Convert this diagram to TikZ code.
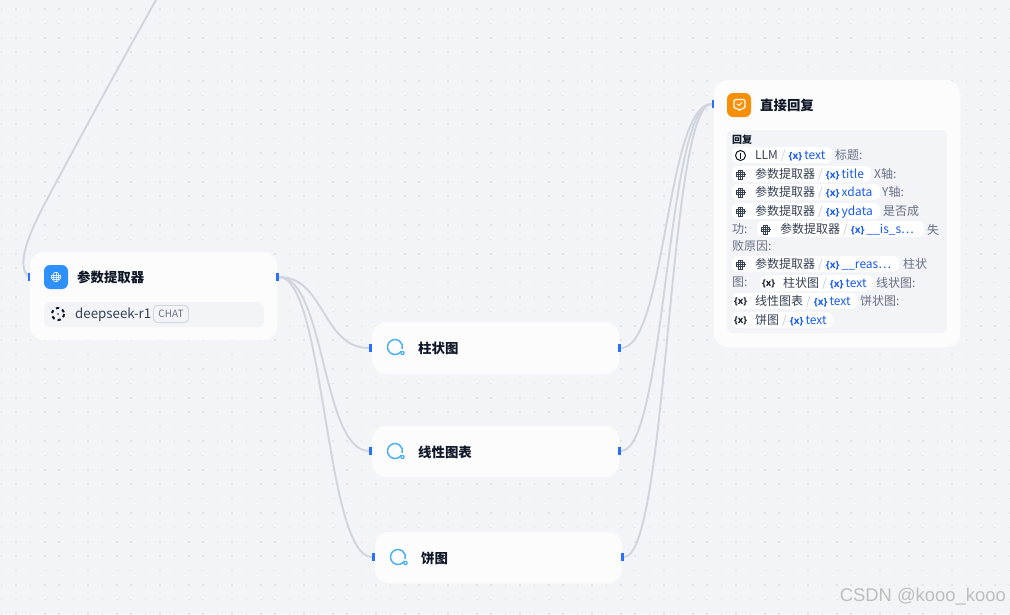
\documentclass[tikz,border=0pt]{standalone}
\usepackage{fontspec}
\setmainfont{Noto Sans CJK SC}
\newfontfamily\xfont{Open Sans}
\newfontfamily\wmfont{Liberation Sans}
\definecolor{bgc}{HTML}{F2F4F7}
\definecolor{dotc}{HTML}{E1E3E8}
\definecolor{edgec}{HTML}{D0D5DD}
\definecolor{portc}{HTML}{2970FF}
\definecolor{ink}{HTML}{101828}
\definecolor{body}{HTML}{354052}
\definecolor{muted}{HTML}{676F83}
\definecolor{slashc}{HTML}{C8CEDA}
\definecolor{varc}{HTML}{155AEF}
\definecolor{rowc}{HTML}{F2F4F7}
\definecolor{cardc}{HTML}{FCFCFD}
\definecolor{peblue}{HTML}{2E90FA}
\definecolor{ansor}{HTML}{F79009}
\definecolor{ringc}{HTML}{4CB0EE}
\tikzset{
  x=1pt,y=-1pt,
  edge/.style={draw=edgec,line width=1.9pt},
  card/.style={fill=cardc,rounded corners=14pt,draw=white!60!bgc,line width=.5pt},
  port/.style={fill=portc,draw=none,inner sep=0pt,minimum width=2.6pt,minimum height=8pt,rectangle},
  title/.style={font=\fontsize{13.4}{14}\selectfont\bfseries,text=ink,anchor=west,inner sep=0pt},
  chipbox/.style={fill=white,rounded corners=6pt,draw=none},
  chiptext/.style={font=\fontsize{12}{12}\selectfont,text=body,anchor=west,inner sep=0pt},
  plain/.style={font=\fontsize{12}{12}\selectfont,text=muted,anchor=west,inner sep=0pt},
  srcvar/.style={font=\xfont\fontsize{9.5}{9.5}\selectfont\bfseries,text=ink,inner sep=0pt},
}
\newcommand{\slashmark}{\hspace{3pt}{\color{slashc}/}\hspace{3pt}}
\newcommand{\varmark}{{\xfont\fontsize{10}{10}\selectfont\bfseries\color{varc}\{x\}}\hspace{2pt}}
% hatched round glyph centred at #1: colour #2
\newcommand{\gridglyph}[2]{%
  \begin{scope}[shift={(#1)}]
  \foreach \gv/\gl in {-4.4/2.2,-2.2/4.2,0/5,2.2/4.2,4.4/2.2}{%
    \draw[#2,line width=.85pt] (\gv,-\gl) -- (\gv,\gl);
    \draw[#2,line width=.45pt] (-\gl,\gv) -- (\gl,\gv);}
  \end{scope}}
% x-left, y, width, icon code, source, variable, node name
\newcommand{\chipline}[7]{%
  \fill[chipbox] (#1,#2-8) rectangle ++(#3,16);
  \coordinate (ic#7) at (#1+8.5,#2+.5);
  #4
  \node[chiptext] (#7) at (#1+23,#2+.6) {#5\slashmark\varmark{\color{varc}#6}};
}
\newcommand{\gicon}[1]{\gridglyph{ic#1}{body}}
\newcommand{\vicon}[1]{\node[srcvar] at (ic#1) {\{x\}};}
\usetikzlibrary{calc}
\begin{document}
\begin{tikzpicture}
\useasboundingbox (0,0) rectangle (1010,614);
\fill[bgc] (0,0) rectangle (1010,614);
\foreach \i in {0,...,70}{\foreach \j in {0,...,42}{%
  \fill[dotc] (1.5+14.4*\i-.8,9+14.4*\j-.8) rectangle ++(1.6,1.6);}}

% cards
\draw[card] (30,252) rectangle (277,340);
\draw[card] (372,322) rectangle (619,374);
\draw[card] (372,426) rectangle (619,477);
\draw[card] (375,532) rectangle (622,583);
\draw[card] (714,80) rectangle (960,347);

% ports
\node[port] (pIn) at (29,277) {};
\node[port] (pOut) at (277.5,277) {};
\node[port] (barIn) at (370.5,348) {};
\node[port] (barOut) at (619.5,348) {};
\node[port] (lineIn) at (370.5,451) {};
\node[port] (lineOut) at (619.5,451) {};
\node[port] (pieIn) at (373.5,557) {};
\node[port] (pieOut) at (622.5,557) {};
\node[port] (ansIn) at (713,104) {};
\coordinate (topEnd) at (156.5,-1);
\coordinate (topBend) at (43,207);

% connectors
\draw[edge] (topEnd) .. controls (100,100) and (60,175) .. (topBend) .. controls (30,232) and (15,266) .. (pIn.center);
\draw[edge] (pOut.east) .. controls (325,277) and (322,348) .. (barIn.west);
\draw[edge] (pOut.east) .. controls (325,277) and (322,451) .. (lineIn.west);
\draw[edge] (pOut.east) .. controls (325,277) and (325,557) .. (pieIn.west);
\draw[edge] (barOut.east) .. controls (666,348) and (666,104) .. (ansIn.west);
\draw[edge] (lineOut.east) .. controls (666,451) and (666,104) .. (ansIn.west);
\draw[edge] (pieOut.east) .. controls (668,557) and (668,104) .. (ansIn.west);
\node[port] at (pIn) {};
\node[port] at (pOut) {};
\node[port] at (barIn) {};
\node[port] at (barOut) {};
\node[port] at (lineIn) {};
\node[port] at (lineOut) {};
\node[port] at (pieIn) {};
\node[port] at (pieOut) {};
\node[port] at (ansIn) {};

% parameter extractor
\fill[peblue,rounded corners=6pt] (44,265) rectangle ++(24,24);
\coordinate (pe) at (56,277);
\gridglyph{pe}{white!85!peblue}
\node[title] (peT) at (77,277) {参数提取器};
\fill[rowc,rounded corners=6pt] (44,302) rectangle (264,327);
\draw[ink,line width=2pt,dash pattern=on 3.3pt off 3.2pt] (58,314) circle[radius=6];
\fill[ink] (58,314) circle[radius=.9];
\node[font=\fontsize{13.3}{13.3}\selectfont,text=body,anchor=west,inner sep=0pt] (model) at (75,315) {deepseek-r1};
\node[draw=edgec,line width=.9pt,rounded corners=4pt,font=\fontsize{10}{10}\selectfont,text=muted,inner sep=0pt,minimum width=35pt,minimum height=17pt] (badge) at (171,314) {CHAT};

% code-style nodes
\foreach \nx/\ny/\nt/\nn in {387/348/柱状图/barT,387/452/线性图表/lineT,390/558/饼图/pieT}{%
  \draw[ringc,line width=1.5pt] (\nx+8,\ny-1) ++(35:7.5) arc[start angle=35,end angle=375,radius=7.5];
  \fill[ringc] (\nx+15.5,\ny+5) circle[radius=2.3];
  \fill[white] (\nx+15.5,\ny+5) circle[radius=.9];
  \node[title] (\nn) at (\nx+31,\ny) {\nt};
}

% answer node
\fill[ansor,rounded corners=6pt] (727,93) rectangle ++(24,24);
\draw[white,line width=1.1pt,rounded corners=1.5pt] (734,99.5) -- (745,99.5) -- (745,108.5) -- (741,108.5) -- (739.5,110.5) -- (738,108.5) -- (734,108.5) -- cycle;
\draw[white,line width=1pt] (737,104) -- (739,105.5) -- (742,102.5);
\node[title] (ansT) at (760,105) {直接回复};
\fill[rowc,rounded corners=6pt] (727,130) rectangle (947,333);
\node[font=\fontsize{10}{10}\selectfont\bfseries,text=ink,anchor=west,inner sep=0pt] (ansL) at (732,139.5) {回复};

% reply text
\chipline{732}{155}{100}{\draw[ink,line width=1pt] (ica) circle[radius=5]; \draw[ink,line width=1pt] (ica) ++(0,-3) -- ++(0,6);}{LLM}{text}{a}
\node[plain] at (835,154.5) {标题:};
\chipline{732}{174}{139}{\gicon{b}}{参数提取器}{title}{b}
\node[plain] at (874,173.5) {X轴:};
\chipline{732}{192}{148}{\gicon{c}}{参数提取器}{xdata}{c}
\node[plain] at (882,191.5) {Y轴:};
\chipline{732}{211}{148}{\gicon{d}}{参数提取器}{ydata}{d}
\node[plain] at (883,210.5) {是否成};
\node[plain] at (732,229.5) {功:};
\chipline{757}{229}{167}{\gicon{e}}{参数提取器}{\_\_is\_s⋯}{e}
\node[plain] at (927,229.5) {失};
\node[plain] at (732,245.5) {败原因:};
\chipline{732}{264}{167}{\gicon{f}}{参数提取器}{\_\_reas⋯}{f}
\node[plain] at (903,263.5) {柱状};
\node[plain] at (732,282.5) {图:};
\chipline{760}{283}{113}{\vicon{g}}{柱状图}{text}{g}
\node[plain] at (876,282.5) {线状图:};
\chipline{732}{301}{125}{\vicon{h}}{线性图表}{text}{h}
\node[plain] at (860,300.5) {饼状图:};
\chipline{732}{320}{101}{\vicon{i}}{饼图}{text}{i}

% watermark
\node[font=\wmfont\fontsize{18.4}{18.4}\selectfont,text=black!26,anchor=east,inner sep=0pt] (wm) at (1006,597) {CSDN @kooo\_kooo};
\end{tikzpicture}
\end{document}
